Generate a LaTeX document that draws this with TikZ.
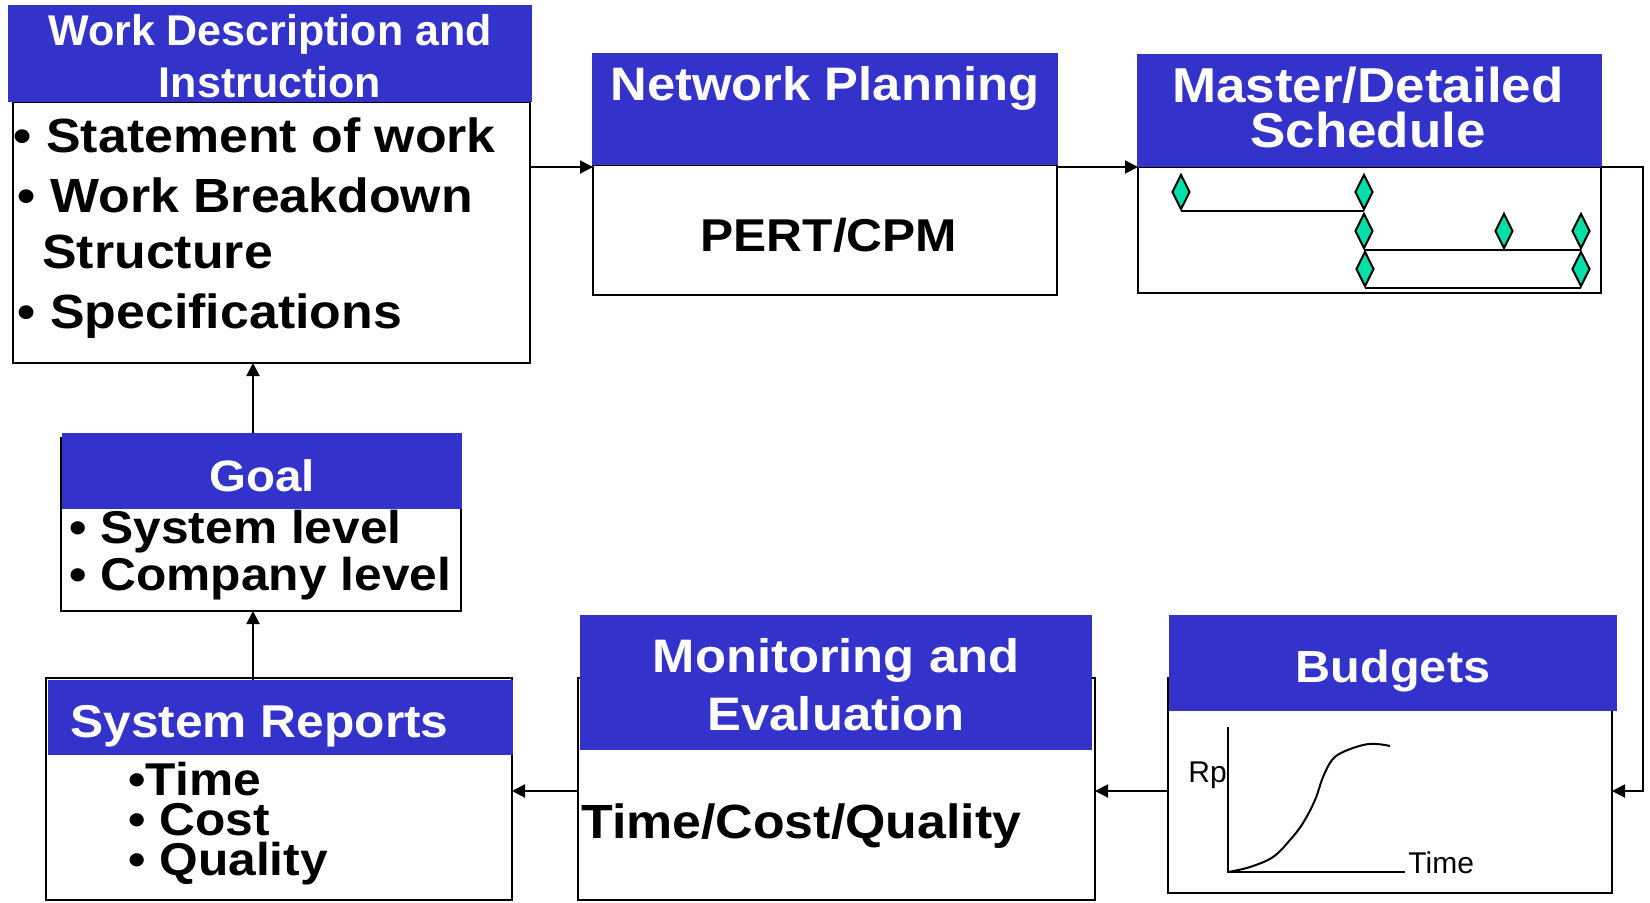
\documentclass[tikz,border=0pt]{standalone}
\usepackage{fontspec}
\setmainfont{Liberation Sans}
\newfontfamily\tfont{Liberation Sans}[FakeStretch=1.08]
\usetikzlibrary{arrows.meta,fit,shapes.geometric}
\definecolor{hblue}{RGB}{51,51,204}
\definecolor{dgreen}{RGB}{0,224,168}
\begin{document}
\begin{tikzpicture}[x=0.5pt,y=-0.5pt,
  box/.style={draw=black, line width=1.2pt, inner sep=0pt, outer sep=0pt},
  hdr/.style={fill=hblue, draw=none, inner sep=0pt, outer sep=0pt},
  ttl/.style={text=white, font=\tfont\fontsize{23.5}{28}\selectfont\bfseries, inner sep=0pt, anchor=base},
  body/.style={text=black, font=\tfont\fontsize{24}{29}\selectfont\bfseries, inner sep=0pt, anchor=base west},
  sbody/.style={body, font=\tfont\fontsize{23}{27}\selectfont\bfseries},
  arr/.style={-{Triangle[length=6.5pt,width=6.5pt]}, line width=1pt},
  dia/.style={diamond, draw=black, fill=dgreen, line width=1pt, minimum width=9pt, minimum height=17.5pt, inner sep=0pt},
  lbl/.style={text=black, font=\fontsize{15}{18}\selectfont, inner sep=0pt, anchor=base west},
  ln/.style={line width=1pt}
]
\useasboundingbox (0,0) rectangle (1650,902);

% ---------- Work Description and Instruction ----------
\node[box, fit={(13,102) (530,363)}] (wd) {};
\node[hdr, fit={(8,5) (532,102)}] (wdh) {};
\node[ttl, font=\fontsize{21.5}{26}\selectfont\bfseries] (wdt1) at (270,45) {Work Description and};
\node[ttl, font=\fontsize{21.5}{26}\selectfont\bfseries] (wdt2) at (270,97) {Instruction};
\node[body] (wdb1) at (13.5,152) {\textbullet\ Statement of work};
\node[body] (wdb2) at (17.5,212) {\textbullet\ Work Breakdown};
\node[body] (wdb3) at (42,268) {Structure};
\node[body] (wdb4) at (17.5,328) {\textbullet\ Specifications};

% ---------- Network Planning ----------
\node[box, fit={(593,165) (1057,295)}] (np) {};
\node[hdr, fit={(592,53) (1058,165)}] (nph) {};
\node[ttl] (npt) at (825,100) {Network Planning};
\node[body, anchor=base, font=\tfont\fontsize{23}{28}\selectfont\bfseries] (npb) at (829,251) {PERT/CPM};

% ---------- Master/Detailed Schedule ----------
\node[box, fit={(1138,167) (1601,293)}] (ms) {};
\node[hdr, fit={(1137,54) (1602,167)}] (msh) {};
\node[ttl, font=\tfont\fontsize{24.5}{29}\selectfont\bfseries] (mst1) at (1368,102) {Master/Detailed};
\node[ttl, font=\tfont\fontsize{24.5}{29}\selectfont\bfseries] (mst2) at (1368,147) {Schedule};
\node[dia] (d1) at (1181,192) {};
\node[dia] (d2) at (1364,192) {};
\node[dia] (d3) at (1364,231) {};
\node[dia] (d4) at (1504,231) {};
\node[dia] (d5) at (1581,231) {};
\node[dia] (d6) at (1365,269) {};
\node[dia] (d7) at (1581,269) {};
\draw[ln] (d1.south) -- (d2.south);
\draw[ln] (d3.south) -- (d4.south) -- (d5.south);
\draw[ln] (d6.south) -- (d7.south);

% ---------- Budgets ----------
\node[box, fit={(1168,678) (1612,893)}] (bg) {};
\node[hdr, fit={(1169,615) (1617,711)}] (bgh) {};
\node[ttl, font=\tfont\fontsize{22.5}{27}\selectfont\bfseries] (bgt) at (1393,682) {Budgets};
\draw[ln] (1228,727) -- (1228,872) -- (1405,872);
\draw[ln] plot[smooth, tension=0.6] coordinates {(1228,872) (1250,867) (1273,857) (1290,840) (1303,823) (1315,800) (1323,777) (1332,760) (1343,752) (1363,745) (1377,744) (1390,746)};
\node[lbl] (rp) at (1188,782) {Rp};
\node[lbl] (tm) at (1408,873) {Time};

% ---------- Monitoring and Evaluation ----------
\node[box, fit={(578,678) (1095,900)}] (mo) {};
\node[hdr, fit={(580,615) (1092,750)}] (moh) {};
\node[ttl] (mot1) at (836,672) {Monitoring and};
\node[ttl] (mot2) at (836,730) {Evaluation};
\node[body] (mob) at (581,838) {Time/Cost/Quality};

% ---------- System Reports ----------
\node[box, fit={(46,678) (512,900)}] (sr) {};
\node[hdr, fit={(48,680) (513,755)}] (srh) {};
\node[ttl, anchor=base west, font=\tfont\fontsize{23}{28}\selectfont\bfseries] (srt) at (70,737) {System Reports};
\node[sbody, font=\tfont\fontsize{23}{20}\selectfont\bfseries, align=left, anchor=north west] (srb) at (128,762)
  {\textbullet Time\\\textbullet\ Cost\\\textbullet\ Quality};

% ---------- Goal ----------
\node[box, fit={(61,438) (461,611)}] (gl) {};
\node[hdr, fit={(62,433) (462,509)}] (glh) {};
\node[ttl, font=\tfont\fontsize{22}{27}\selectfont\bfseries] (glt) at (262,491) {Goal};
\node[sbody] (glb1) at (69,543) {\textbullet\ System level};
\node[sbody] (glb2) at (69,590) {\textbullet\ Company level};

% ---------- connectors ----------
\coordinate (r1) at (0,167);
\coordinate (rx) at (1643,791);
\coordinate (ax) at (253,0);
\draw[arr] (wd.east |- r1) -- (np.west |- r1);
\draw[arr] (np.east |- r1) -- (ms.west |- r1);
\draw[arr] (ms.north east) -| (rx) -- (bg.east |- rx);
\draw[arr] (bg.west |- rx) -- (mo.east |- rx);
\draw[arr] (mo.west |- rx) -- (sr.east |- rx);
\draw[arr] (srh.north -| ax) -- (gl.south -| ax);
\draw[arr] (glh.north -| ax) -- (wd.south -| ax);
\end{tikzpicture}
\end{document}
